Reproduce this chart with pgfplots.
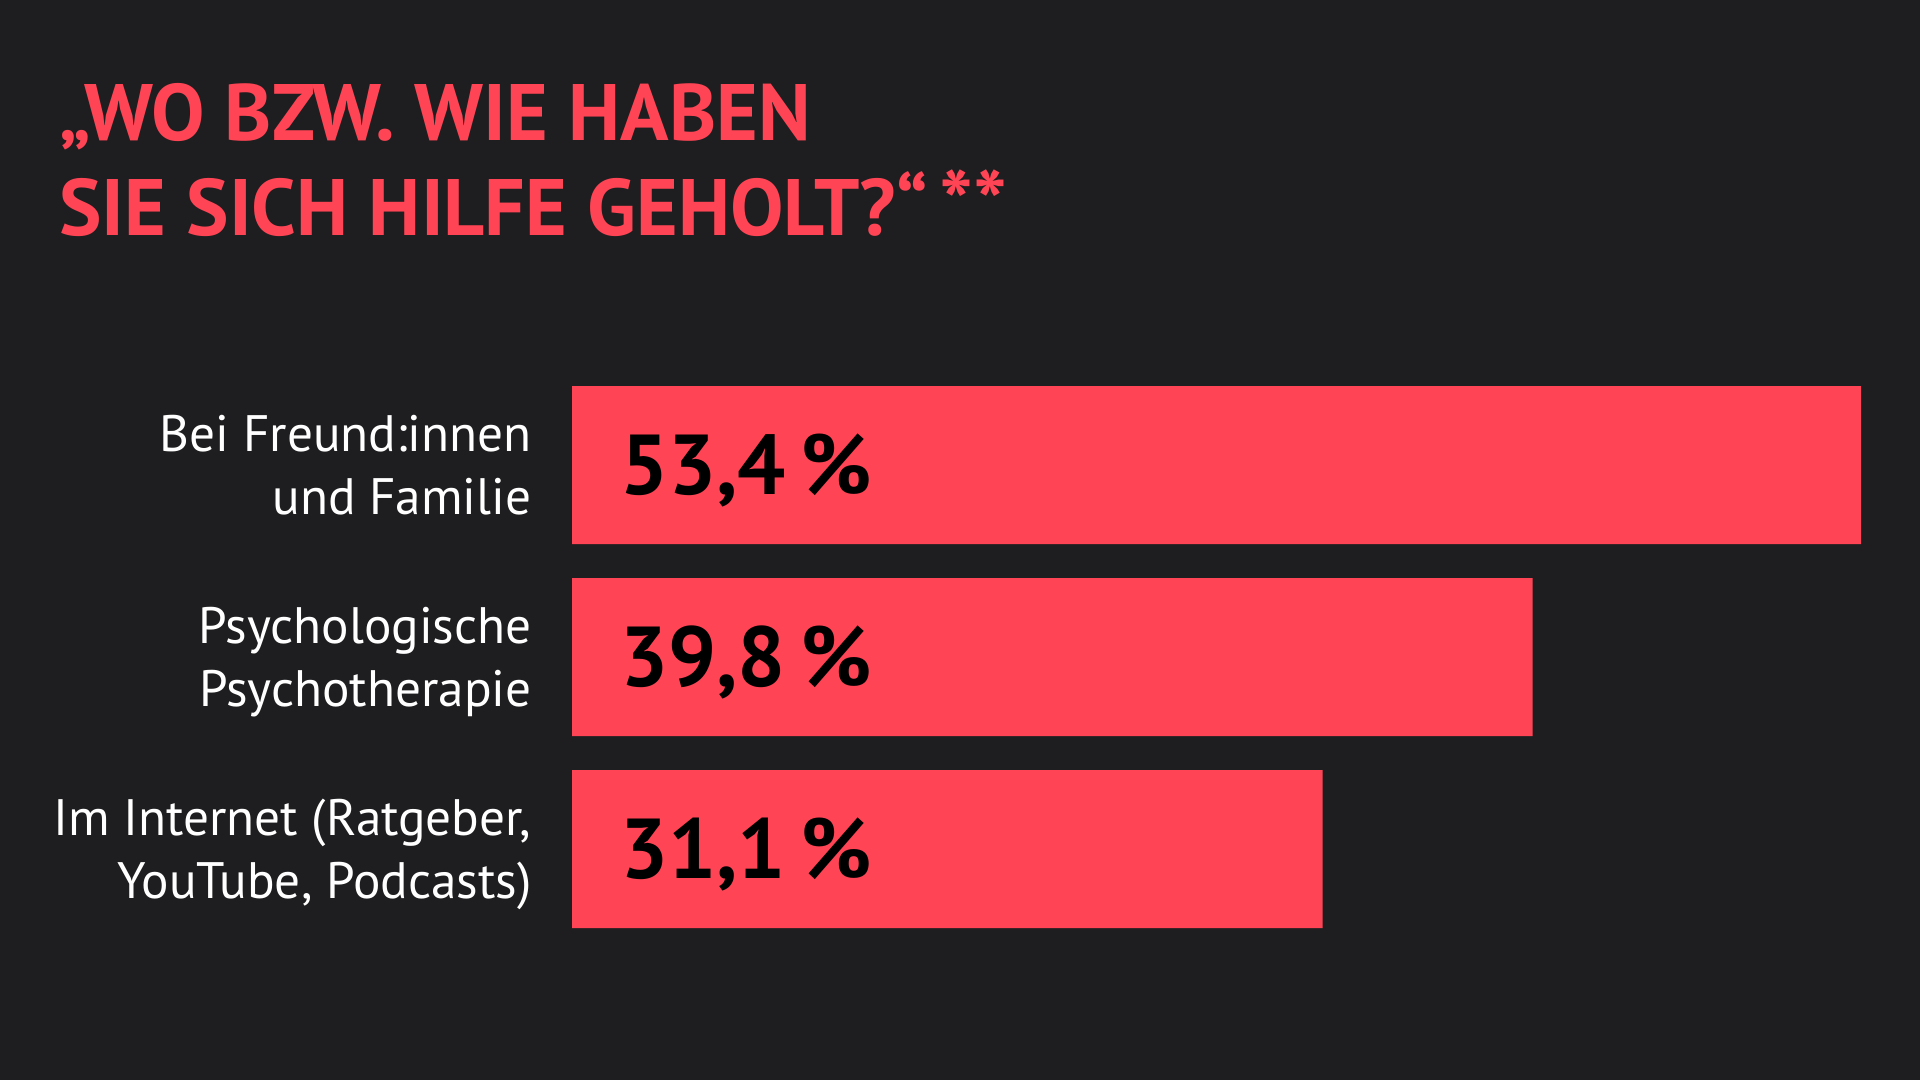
\documentclass[border=0pt]{standalone}
\usepackage{fontspec}
\setmainfont{PT Sans}
\usepackage{pgfplots}
\pgfplotsset{compat=1.18}
\definecolor{bgc}{HTML}{1E1E20}
\definecolor{redc}{HTML}{FF4555}
\tikzset{
  val/.style={anchor=base west, inner sep=0pt, font=\fontsize{34}{40}\selectfont\bfseries, text=black, yshift=-11.8pt, xshift=19pt},
  laba/.style={anchor=base east, inner sep=0pt, text=white, font=\fontsize{20.5}{25.5}\selectfont, yshift=5.6pt, xshift=-16pt},
  labb/.style={anchor=base east, inner sep=0pt, text=white, font=\fontsize{20.5}{25.5}\selectfont, yshift=-19.6pt, xshift=-16pt},
}
\begin{document}
\begin{tikzpicture}
\fill[bgc] (0,0) rectangle (768pt,432pt);
\node[anchor=base west, text=redc, font=\fontsize{32}{38}\selectfont\bfseries, inner sep=0pt] at (23.6pt,375.6pt) {„WO BZW. WIE HABEN};
\node[anchor=base west, text=redc, font=\fontsize{32}{38}\selectfont\bfseries, inner sep=0pt] at (23.6pt,337.8pt) {SIE SICH HILFE GEHOLT?“\hspace{0.15em}{\fontsize{36}{38}\selectfont **}};
\begin{axis}[
  at={(228.8pt,54pt)}, anchor=south west,
  scale only axis, width=515.6pt, height=230.4pt,
  xmin=0, xmax=53.4, ymin=-0.5, ymax=2.5,
  y dir=reverse,
  axis lines=none,
  clip=false,
  xbar, bar width=63.2pt,
  ytick={0,1,2},
  xtick=\empty,
]
\addplot[fill=redc, draw=none] coordinates {(53.4,0) (39.8,1) (31.1,2)};
\node[val] at (axis cs:0,0) {53,4\,\%};
\node[val] at (axis cs:0,1) {39,8\,\%};
\node[val] at (axis cs:0,2) {31,1\,\%};
\node[laba] at (axis cs:0,0) {Bei Freund:innen};
\node[labb] at (axis cs:0,0) {und Familie};
\node[laba] at (axis cs:0,1) {Psychologische};
\node[labb] at (axis cs:0,1) {Psychotherapie};
\node[laba] at (axis cs:0,2) {Im Internet (Ratgeber,};
\node[labb] at (axis cs:0,2) {YouTube, Podcasts)};
\end{axis}
\pgfresetboundingbox
\path (0,0) rectangle (768pt,432pt);
\end{tikzpicture}
\end{document}
